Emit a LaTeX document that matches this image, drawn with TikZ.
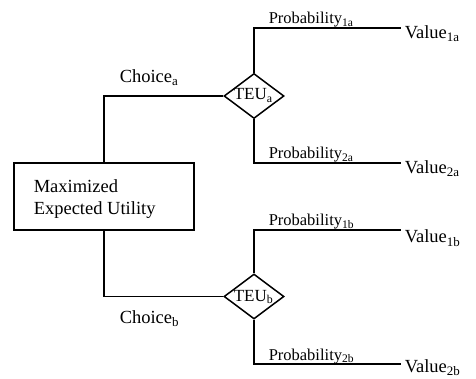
\documentclass[tikz,border=0pt]{standalone}
\usepackage{fontspec}
\setmainfont{Liberation Serif}
\usetikzlibrary{shapes.geometric}
\begin{document}
\begin{tikzpicture}[x=1pt,y=-1pt,line width=1.5pt,
  lbl/.style={anchor=base west,inner sep=0pt,font=\fontsize{18.5}{22}\selectfont},
  plbl/.style={anchor=base west,inner sep=0pt,font=\fontsize{16.5}{20}\selectfont},
  tlbl/.style={anchor=base west,inner sep=0pt,font=\fontsize{17}{20}\selectfont},
  chance/.style={diamond,draw,minimum width=60pt,minimum height=45pt,inner sep=0pt},
  mainbox/.style={draw,minimum width=180pt,minimum height=67pt,inner sep=0pt}]
\useasboundingbox (0,0) rectangle (476,379);
% main box
\node[mainbox] (box) at (104,196.5) {};
\node[lbl] (m1) at (33,193) {Maximized};
\node[lbl] (m2) at (33,215) {Expected Utility};
% chance nodes
\node[chance] (da) at (254,96) {};
\node[chance] (db) at (254,296.5) {};
\node[tlbl] (ta) at (233,100) {TEU\textsubscript{a}};
\node[tlbl] (tb) at (233,301) {TEU\textsubscript{b}};
% branch end points
\coordinate (e1a) at (401,28);
\coordinate (e2a) at (401,163);
\coordinate (e1b) at (401,230);
\coordinate (e2b) at (401,364);
% connectors
\draw (box.north) |- (da.west);
\draw (box.south) |- (db.west);
\draw (da.north) |- (e1a);
\draw (da.south) |- (e2a);
\draw (db.north) |- (e1b);
\draw (db.south) |- (e2b);
% labels
\node[lbl] (ca) at (119,83) {Choice\textsubscript{a}};
\node[lbl] (cb) at (119,323) {Choice\textsubscript{b}};
\node[plbl] (p1a) at (268,24) {Probability\textsubscript{1a}};
\node[plbl] (p2a) at (268,158.5) {Probability\textsubscript{2a}};
\node[plbl] (p1b) at (268,225.5) {Probability\textsubscript{1b}};
\node[plbl] (p2b) at (268,360) {Probability\textsubscript{2b}};
\node[lbl] (v1a) at (404,38.5) {Value\textsubscript{1a}};
\node[lbl] (v2a) at (404,174) {Value\textsubscript{2a}};
\node[lbl] (v1b) at (404,243) {Value\textsubscript{1b}};
\node[lbl] (v2b) at (404,372) {Value\textsubscript{2b}};
\end{tikzpicture}
\end{document}
